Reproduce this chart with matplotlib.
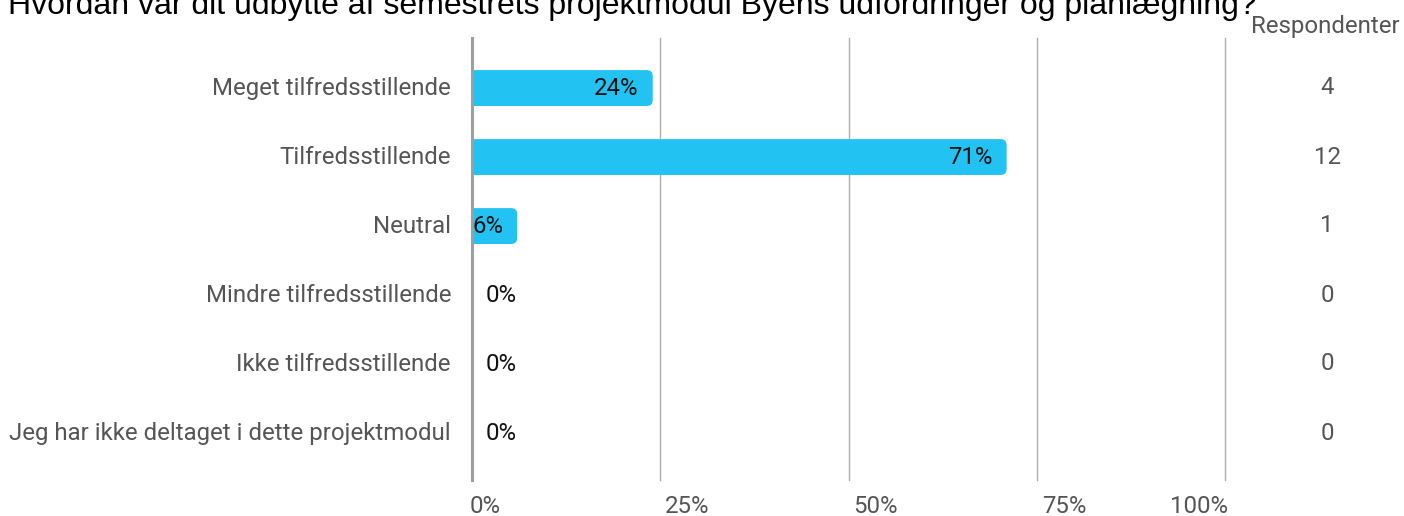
import numpy as np
from matplotlib import pyplot as plt
from matplotlib.patches import FancyBboxPatch

# survey answers (top to bottom as shown)
categories = ['Meget tilfredsstillende', 'Tilfredsstillende', 'Neutral',
              'Mindre tilfredsstillende', 'Ikke tilfredsstillende',
              'Jeg har ikke deltaget i dette projektmodul']
percents = [24, 71, 6, 0, 0, 0]
pct_labels = ['24%', '71%', '6%', '0%', '0%', '0%']
respondents = [4, 12, 1, 0, 0, 0]
x_ticks = [0, 25, 50, 75, 100]
x_tick_labels = ['0%', '25%', '50%', '75%', '100%']

title = 'Hvordan var dit udbytte af semestrets projektmodul Byens udfordringer og planlægning?'

bar_color = '#22C3F3'
grey_text = '#555555'
fs = 17.3

W, H = 1404, 516
fig = plt.figure(figsize=(W / 100, H / 100), dpi=100)
ax = fig.add_axes([472 / W, 1 - 480 / H, 753 / W, 442 / H])

ax.set_xlim(0, 100)
ax.set_ylim(5.68, -0.725)
for s in ax.spines.values():
    s.set_visible(False)
ax.set_xticks([])
ax.set_yticks([])

# gridlines
for t in x_ticks[1:]:
    ax.axvline(t, color='#ADADAD', lw=1, zorder=0, clip_on=False)
ax.axvline(0, color='#9E9E9E', lw=2.2, zorder=3, clip_on=False)

# bars with rounded right end
bar_h = 0.52
px_x = 100 / 753
px_y = 1 / 69
r = 6 * px_x
for i, v in enumerate(percents):
    if v <= 0:
        continue
    p = FancyBboxPatch((-2, i - bar_h / 2), v + 2, bar_h,
                       boxstyle='round,pad=0,rounding_size=%f' % r,
                       mutation_aspect=px_y / px_x,
                       fc=bar_color, ec='none', zorder=2)
    ax.add_patch(p)

# value labels
for i, (v, lab) in enumerate(zip(percents, pct_labels)):
    if v > 0:
        ax.text(v - 14 * px_x, i, lab, ha='right', va='center',
                fontsize=fs, family='Roboto', color='#111111', zorder=4)
    else:
        ax.text(14 * px_x, i, lab, ha='left', va='center',
                fontsize=fs, family='Roboto', color='#111111', zorder=4)

# category labels
for i, c in enumerate(categories):
    ax.text(-21 * px_x, i, c, ha='right', va='center', fontsize=fs,
            family='Roboto', color=grey_text, clip_on=False)

# respondent counts
for i, n in enumerate(respondents):
    ax.text(1327, H - (88 + 69 * i), str(n), transform=None, ha='center',
            va='center', fontsize=fs, family='Roboto', color=grey_text)

fig.text(1400 / W, 1 - 26 / H, 'Respondenter', ha='right', va='center',
         fontsize=fs, family='Roboto', color=grey_text)

# x tick labels
tick_y = 5.68 + 26 * px_y
for t, lab in zip(x_ticks, x_tick_labels):
    if t == 0:
        ax.text(t - 2 * px_x, tick_y, lab, ha='left', va='center',
                fontsize=fs, family='Roboto', color=grey_text, clip_on=False)
    elif t == 100:
        ax.text(t + 3 * px_x, tick_y, lab, ha='right', va='center',
                fontsize=fs, family='Roboto', color=grey_text, clip_on=False)
    else:
        ax.text(t + 5 * px_x, tick_y, lab, ha='left', va='center',
                fontsize=fs, family='Roboto', color=grey_text, clip_on=False)

# title (sits partly above the image)
fig.text(8 / W, 1 - 14 / H, title, ha='left', va='baseline',
         fontsize=23, family='Liberation Sans', color='#000000')

fig.savefig('out.png', dpi=100)
